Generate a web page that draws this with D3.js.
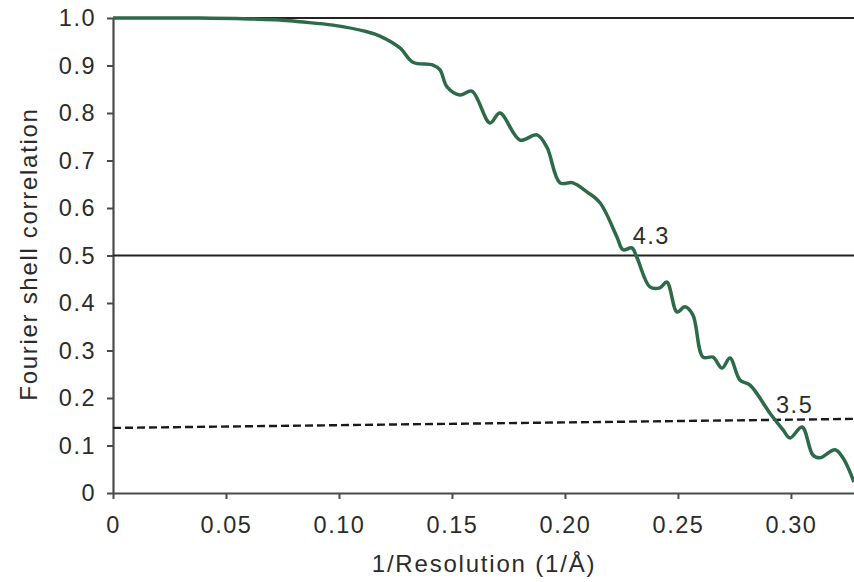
<!DOCTYPE html>
<html>
<head>
<meta charset="utf-8">
<script src="https://cdn.jsdelivr.net/npm/d3@7"></script>
<style>
  body { margin: 0; background: #fff; }
  svg text { font-family: "Liberation Sans", Arial, Helvetica, sans-serif; fill: #2b2b2b; }
</style>
</head>
<body>
<div id="chart"></div>
<script>
// FSC curve
var fscX = [0, 0.0385, 0.0606, 0.0739, 0.0827, 0.0973, 0.1124, 0.1181, 0.127, 0.1327,
            0.1416, 0.1447, 0.1478, 0.1535, 0.1588, 0.1668, 0.1712, 0.1801, 0.1876, 0.192,
            0.1978, 0.2035, 0.2097, 0.2155, 0.223, 0.2257, 0.2296, 0.2319, 0.2376, 0.242,
            0.2451, 0.2496, 0.2531, 0.2566, 0.2611, 0.2655, 0.2695, 0.273, 0.2774, 0.2819,
            0.2907, 0.2965, 0.2996, 0.3049, 0.3097, 0.3128, 0.3195, 0.323, 0.3279];
var fscY = [1.0, 1.0, 0.998, 0.996, 0.992, 0.985, 0.971, 0.962, 0.937, 0.907,
            0.901, 0.891, 0.855, 0.838, 0.846, 0.779, 0.80, 0.743, 0.754, 0.728,
            0.653, 0.653, 0.634, 0.611, 0.539, 0.512, 0.516, 0.495, 0.434, 0.432,
            0.444, 0.381, 0.392, 0.375, 0.286, 0.286, 0.263, 0.284, 0.238, 0.227,
            0.168, 0.133, 0.116, 0.139, 0.08, 0.074, 0.091, 0.074, 0.023];

// threshold lines
var solidLevels = [1.0, 0.5];
var dashedX = [0, 0.3279];
var dashedY = [0.137, 0.156];

// resolution labels
var noteText = ["4.3", "3.5"];
var noteX = [0.230, 0.2934];
var noteY = [0.524, 0.168];

var xTicks = [0, 0.05, 0.10, 0.15, 0.20, 0.25, 0.30];
var xTickLabels = ["0", "0.05", "0.10", "0.15", "0.20", "0.25", "0.30"];
var yTicks = [0, 0.1, 0.2, 0.3, 0.4, 0.5, 0.6, 0.7, 0.8, 0.9, 1.0];
var yTickLabels = ["0", "0.1", "0.2", "0.3", "0.4", "0.5", "0.6", "0.7", "0.8", "0.9", "1.0"];

var width = 854, height = 582;
var margin = {top: 18, left: 113, right: 0, bottom: 89};

var svg = d3.select("#chart").append("svg")
    .attr("width", width)
    .attr("height", height);

var x = d3.scaleLinear().domain([0, 0.3279]).range([margin.left, width - margin.right]);
var y = d3.scaleLinear().domain([0, 1]).range([height - margin.bottom, margin.top]);

// axes
var xAxis = svg.append("g")
    .attr("transform", "translate(0," + y(0) + ")")
    .call(d3.axisBottom(x).tickValues(xTicks)
        .tickFormat((d, i) => xTickLabels[i]).tickSize(6).tickSizeOuter(0).tickPadding(12));
var yAxis = svg.append("g")
    .attr("transform", "translate(" + x(0) + ",0)")
    .call(d3.axisLeft(y).tickValues(yTicks)
        .tickFormat((d, i) => yTickLabels[i]).tickSize(6).tickSizeOuter(0).tickPadding(10));

[xAxis, yAxis].forEach(g => {
    g.select(".domain").attr("stroke", "#4a4a4a").attr("stroke-width", 2.2);
    g.selectAll(".tick line").attr("stroke", "#4a4a4a").attr("stroke-width", 2);
    g.selectAll(".tick text")
        .style("font-size", "23.5px")
        .style("letter-spacing", "1.5px")
        .attr("fill", "#2b2b2b");
});
xAxis.selectAll(".tick text").attr("dy", "0.95em");
yAxis.selectAll(".tick text").attr("dx", "-1px");

// solid reference lines
svg.selectAll(".ref")
    .data(solidLevels)
    .enter().append("line")
    .attr("class", "ref")
    .attr("x1", x(0))
    .attr("x2", x(0.3279))
    .attr("y1", d => y(d))
    .attr("y2", d => y(d))
    .attr("stroke", "#222")
    .attr("stroke-width", 2.2);

// dashed threshold
svg.append("path")
    .datum(d3.zip(dashedX, dashedY))
    .attr("d", d3.line().x(d => x(d[0])).y(d => y(d[1])))
    .attr("fill", "none")
    .attr("stroke", "#1a1a1a")
    .attr("stroke-width", 2.4)
    .attr("stroke-dasharray", "8,4");

// FSC curve
svg.append("path")
    .datum(d3.zip(fscX, fscY))
    .attr("d", d3.line().curve(d3.curveCatmullRom.alpha(0.5)).x(d => x(d[0])).y(d => y(d[1])))
    .attr("fill", "none")
    .attr("stroke", "#2d6a47")
    .attr("stroke-width", 3.5)
    .attr("stroke-linejoin", "round");

// resolution labels
svg.selectAll(".note")
    .data(noteText)
    .enter().append("text")
    .attr("class", "note")
    .attr("x", (d, i) => x(noteX[i]))
    .attr("y", (d, i) => y(noteY[i]))
    .style("font-size", "23.5px")
    .style("letter-spacing", "1.5px")
    .text(d => d);

// axis titles
svg.append("text")
    .attr("x", 484)
    .attr("y", 572)
    .attr("text-anchor", "middle")
    .style("font-size", "24px")
    .style("letter-spacing", "1.8px")
    .text("1/Resolution (1/Å)");

svg.append("text")
    .attr("transform", "translate(37,254) rotate(-90)")
    .attr("text-anchor", "middle")
    .style("font-size", "24px")
    .style("letter-spacing", "1.7px")
    .text("Fourier shell correlation");
</script>
</body>
</html>
